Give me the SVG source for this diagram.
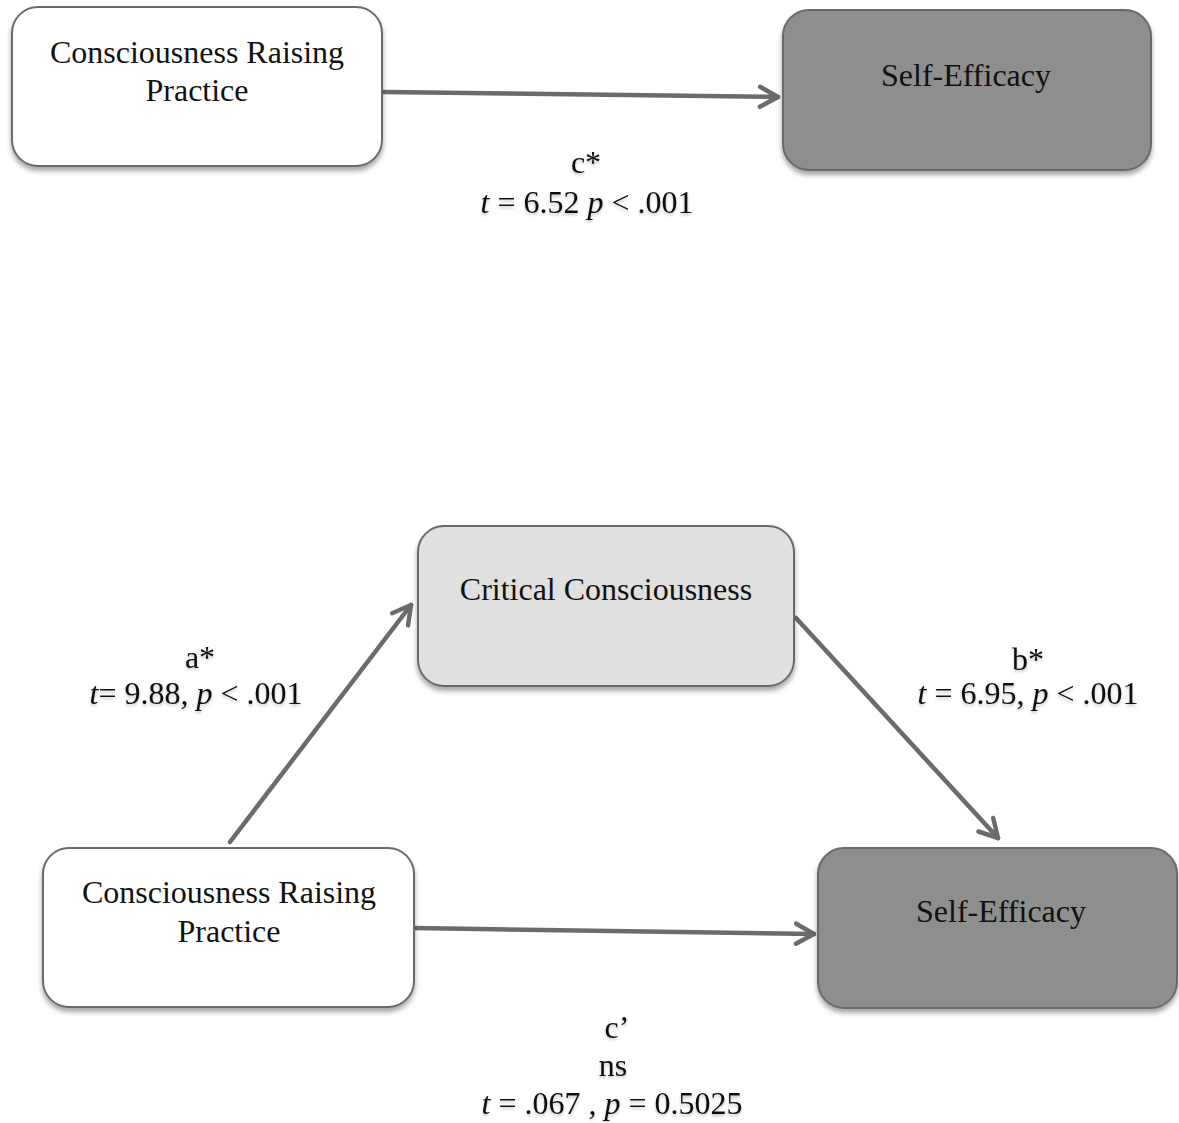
<svg xmlns="http://www.w3.org/2000/svg" width="1179" height="1123" viewBox="0 0 1179 1123">
<style>
.box{stroke:#6a6a6a;stroke-width:2;filter:url(#sh)}
.t{font-family:"Liberation Serif","Times New Roman",serif;font-size:32px;fill:#111;text-anchor:middle}
.lbl{font-family:"Liberation Serif","Times New Roman",serif;font-size:32px;fill:#111;text-anchor:middle;filter:url(#tsh)}
.conn{stroke:#6b6b6b;stroke-width:4.5;fill:none;stroke-linecap:round;marker-end:url(#arr)}
</style>
<defs>
<filter id="sh" x="-10%" y="-10%" width="120%" height="130%">
<feDropShadow dx="0" dy="4" stdDeviation="2.5" flood-color="#000" flood-opacity="0.35"/>
</filter>
<filter id="tsh" x="-10%" y="-20%" width="120%" height="150%">
<feDropShadow dx="0" dy="2" stdDeviation="1.5" flood-color="#000" flood-opacity="0.25"/>
</filter>
<marker id="arr" markerUnits="userSpaceOnUse" markerWidth="30" markerHeight="30" viewBox="-24 -15 30 30" refX="0" refY="0" orient="auto">
<path d="M-18,-10 L0,0 L-18,10" fill="none" stroke="#6b6b6b" stroke-width="4.5" stroke-linecap="round" stroke-linejoin="round"/>
</marker>
</defs>
<g id="connectors">
<line class="conn" x1="383" y1="92" x2="778" y2="97"/>
<line class="conn" x1="230" y1="842" x2="411" y2="605"/>
<line class="conn" x1="796" y1="618" x2="998" y2="838"/>
<line class="conn" x1="414" y1="928" x2="814" y2="934"/>
</g>
<g id="node-crp-top">
<rect class="box" x="12" y="7" width="370" height="159" rx="26" fill="#ffffff"/>
<text class="t" x="197" y="63">Consciousness Raising</text>
<text class="t" x="197" y="101">Practice</text>
</g>
<g id="node-se-top">
<rect class="box" x="783" y="10" width="368" height="160" rx="26" fill="#8e8e8e"/>
<text class="t" x="966" y="86">Self-Efficacy</text>
</g>
<g id="node-cc">
<rect class="box" x="418" y="526" width="376" height="160" rx="26" fill="#e0e0e0"/>
<text class="t" x="606" y="600">Critical Consciousness</text>
</g>
<g id="node-crp-bottom">
<rect class="box" x="43" y="848" width="371" height="159" rx="26" fill="#ffffff"/>
<text class="t" x="229" y="903">Consciousness Raising</text>
<text class="t" x="229" y="942">Practice</text>
</g>
<g id="node-se-bottom">
<rect class="box" x="818" y="848" width="359" height="160" rx="26" fill="#8e8e8e"/>
<text class="t" x="1001" y="922">Self-Efficacy</text>
</g>
<g id="labels">
<text class="lbl" x="586" y="173">c*</text>
<text class="lbl" x="587" y="213"><tspan font-style="italic">t</tspan> = 6.52 <tspan font-style="italic">p</tspan> &lt; .001</text>
<text class="lbl" x="200" y="668">a*</text>
<text class="lbl" x="196" y="704"><tspan font-style="italic">t</tspan>= 9.88, <tspan font-style="italic">p</tspan> &lt; .001</text>
<text class="lbl" x="1028" y="670">b*</text>
<text class="lbl" x="1028" y="704"><tspan font-style="italic">t</tspan> = 6.95, <tspan font-style="italic">p</tspan> &lt; .001</text>
<text class="lbl" x="617" y="1038">c’</text>
<text class="lbl" x="613" y="1076">ns</text>
<text class="lbl" x="612" y="1114"><tspan font-style="italic">t</tspan> = .067 , <tspan font-style="italic">p</tspan> = 0.5025</text>
</g>
</svg>
